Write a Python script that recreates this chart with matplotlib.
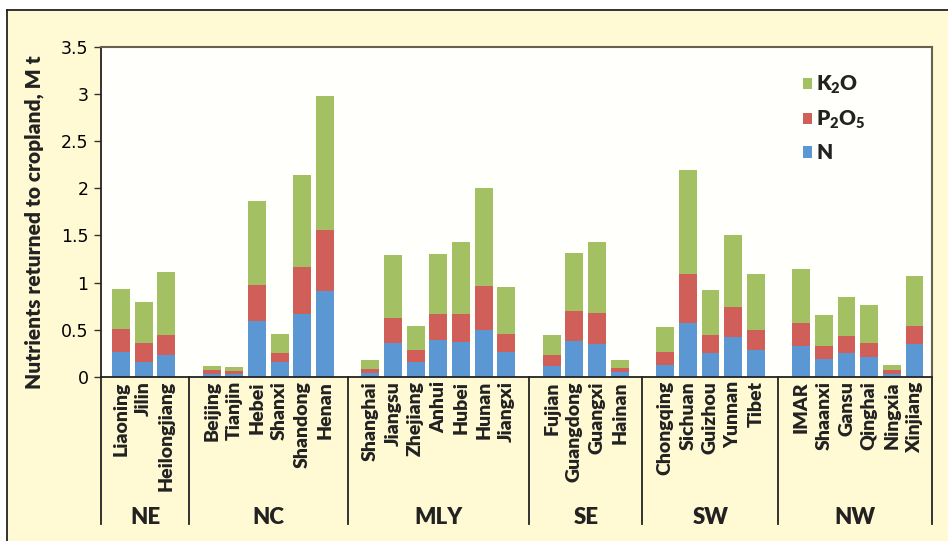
import matplotlib
matplotlib.use("Agg")
import matplotlib.pyplot as plt
from matplotlib.lines import Line2D
from matplotlib.patches import Rectangle
import numpy as np

# Nutrients returned to cropland by province, Mt
groups = ['NE', 'NC', 'MLY', 'SE', 'SW', 'NW']
provinces = [
    ['Liaoning', 'Jilin', 'Heilongjiang'],
    ['Beijing', 'Tianjin', 'Hebei', 'Shanxi', 'Shandong', 'Henan'],
    ['Shanghai', 'Jiangsu', 'Zhejiang', 'Anhui', 'Hubei', 'Hunan', 'Jiangxi'],
    ['Fujian', 'Guangdong', 'Guangxi', 'Hainan'],
    ['Chongqing', 'Sichuan', 'Guizhou', 'Yunnan', 'Tibet'],
    ['IMAR', 'Shaanxi', 'Gansu', 'Qinghai', 'Ningxia', 'Xinjiang'],
]
n_vals = [0.26, 0.16, 0.23,
          0.035, 0.035, 0.59, 0.16, 0.67, 0.91,
          0.04, 0.36, 0.16, 0.39, 0.37, 0.50, 0.26,
          0.12, 0.38, 0.35, 0.05,
          0.13, 0.57, 0.25, 0.42, 0.29,
          0.33, 0.19, 0.25, 0.21, 0.035, 0.35]
p2o5_vals = [0.25, 0.20, 0.22,
             0.035, 0.025, 0.38, 0.09, 0.50, 0.65,
             0.04, 0.26, 0.13, 0.28, 0.30, 0.46, 0.20,
             0.11, 0.32, 0.33, 0.05,
             0.14, 0.52, 0.19, 0.32, 0.21,
             0.24, 0.14, 0.18, 0.15, 0.035, 0.19]
k2o_vals = [0.42, 0.43, 0.66,
            0.05, 0.05, 0.90, 0.21, 0.97, 1.42,
            0.10, 0.67, 0.25, 0.63, 0.76, 1.04, 0.49,
            0.22, 0.61, 0.75, 0.08,
            0.26, 1.10, 0.48, 0.76, 0.59,
            0.57, 0.33, 0.42, 0.40, 0.06, 0.53]

c_n = '#5b97d3'
c_p = '#d05f5a'
c_k = '#a3c163'
bg = '#fffad3'

plt.rcParams['font.family'] = ['Lato', 'DejaVu Sans']
plt.rcParams['mathtext.default'] = 'regular'

fig = plt.figure(figsize=(9.48, 5.41), dpi=100, facecolor='white')
# yellow panel with black frame (top and left)
fig.patches.append(Rectangle((7 / 948, 0), 1, 1 - 10 / 541, transform=fig.transFigure,
                             facecolor=bg, edgecolor='none', zorder=-10))
fig.add_artist(Line2D([7 / 948, 1], [1 - 10 / 541] * 2, transform=fig.transFigure, color='#222222', lw=1.3))
fig.add_artist(Line2D([7 / 948] * 2, [0, 1 - 10 / 541], transform=fig.transFigure, color='#222222', lw=1.3))

ax = fig.add_axes([101 / 948, 1 - 377 / 541, (932 - 101) / 948, (377 - 46.7) / 541])
ax.set_facecolor('#fffffb')

# positions with one empty slot between groups
pos = []
labels = []
seps = []
x = 0
for gi, provs in enumerate(provinces):
    for p in provs:
        pos.append(x)
        labels.append(p)
        x += 1
    if gi < len(provinces) - 1:
        seps.append(x)
        x += 1
pos = np.array(pos)
n_arr = np.array(n_vals)
p_arr = np.array(p2o5_vals)
k_arr = np.array(k2o_vals)

w = 0.79
ax.bar(pos, n_arr, w, color=c_n, label='N', zorder=2)
ax.bar(pos, p_arr, w, bottom=n_arr, color=c_p, label='P$_2$O$_5$', zorder=2)
ax.bar(pos, k_arr, w, bottom=n_arr + p_arr, color=c_k, label='K$_2$O', zorder=2)

ax.set_xlim(-0.88, 35.77)
ax.set_ylim(0, 3.5)
ax.set_yticks(np.arange(0, 3.51, 0.5))
ax.set_yticklabels(['0', '0.5', '1', '1.5', '2', '2.5', '3', '3.5'],
                   fontfamily=['Liberation Sans Narrow', 'DejaVu Sans'], fontsize=12.5)
ax.tick_params(axis='y', length=5, width=1, color='#333333', pad=4)
ax.set_xticks(pos)
ax.set_xticklabels(labels, rotation=90, fontsize=14, fontweight='heavy', color='#222222')
ax.tick_params(axis='x', length=0, pad=3)

for s in ['top', 'right']:
    ax.spines[s].set_color('#66624f')
    ax.spines[s].set_linewidth(1.5)
for s in ['left', 'bottom']:
    ax.spines[s].set_color('#222222')
    ax.spines[s].set_linewidth(1.3)

ax.set_ylabel('Nutrients returned to cropland, M t', fontsize=15, fontweight='heavy',
              color='#222222')
ax.yaxis.set_label_coords(-0.069, 0.47)

# group separators and group names below the axis
trans = ax.get_xaxis_transform()
y_end = (377 - 524) / (377 - 46.7)
for xs in [-0.88] + seps + [35.77]:
    ax.add_line(Line2D([xs, xs], [0, y_end], transform=trans, color='#222222', lw=1.3, clip_on=False))
edges = [-0.88] + seps + [35.77]
for gi, g in enumerate(groups):
    xc = (edges[gi] + edges[gi + 1]) / 2
    ax.text(xc, (377 - 518) / (377 - 46.7), g, transform=trans, ha='center', va='center',
            fontsize=16, fontweight='heavy', color='#222222')

handles, lbls = ax.get_legend_handles_labels()
leg = ax.legend(handles[::-1], lbls[::-1], loc='upper left', bbox_to_anchor=(784 / 948, 1 - 55 / 541),
                bbox_transform=fig.transFigure, frameon=False, fontsize=15, handlelength=0.45,
                handleheight=0.45, handletextpad=0.2, labelspacing=0.6)
for t in leg.get_texts():
    t.set_fontweight('heavy')
    t.set_color('#222222')

fig.savefig('out.png', dpi=100, facecolor='white')
